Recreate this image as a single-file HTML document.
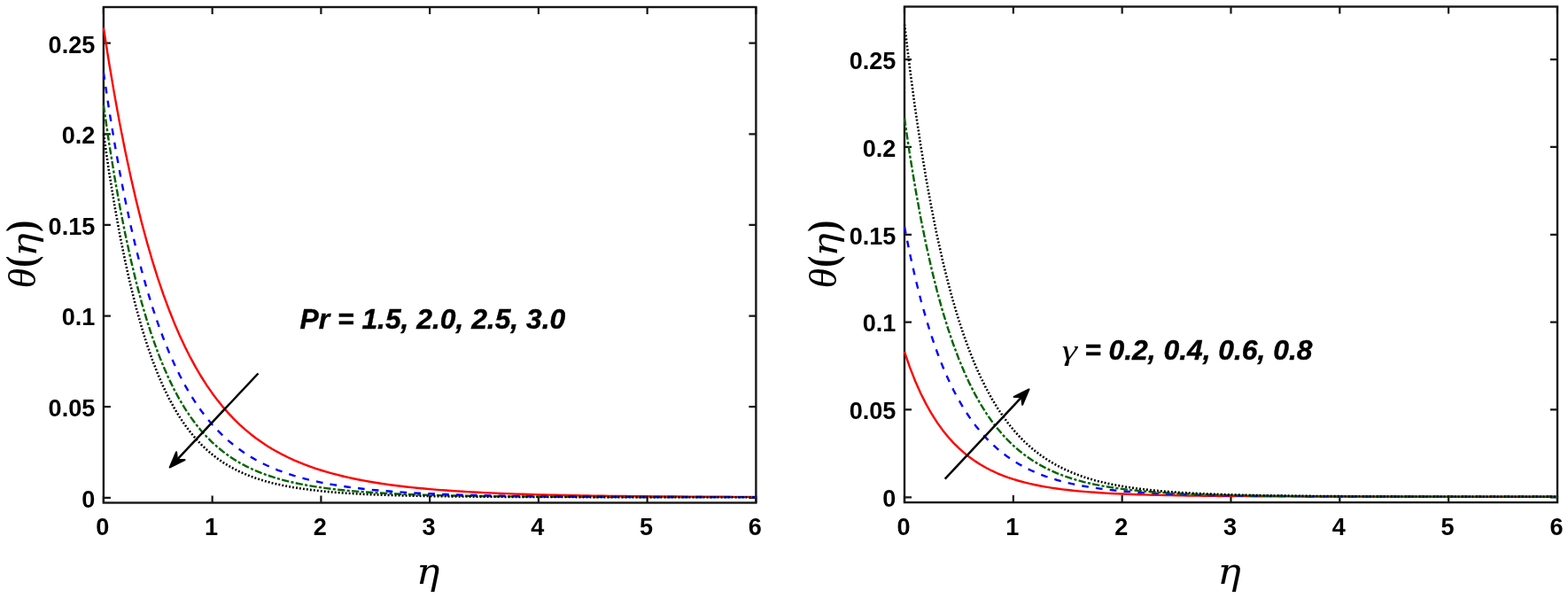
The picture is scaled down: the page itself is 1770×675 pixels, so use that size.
<!DOCTYPE html>
<html lang="en">
<head>
<meta charset="utf-8">
<title>Temperature profiles</title>
<style>
html,body{margin:0;padding:0;background:#fff;}
body{width:1770px;height:675px;overflow:hidden;}
svg{display:block;filter:blur(0.5px);}
text{fill:#000;}
.tk{font-family:"Liberation Sans",sans-serif;font-weight:bold;font-size:27.1px;fill:#161616;}
.an{font-family:"Liberation Sans",sans-serif;font-weight:bold;font-style:italic;font-size:31.8px;stroke:#000;stroke-width:0.4px;}
.ls{font-family:"Liberation Serif","DejaVu Serif",serif;font-style:italic;font-weight:normal;}
.dj{font-family:"DejaVu Serif","Liberation Serif",serif;font-style:italic;font-weight:normal;}
.pr{font-family:"Liberation Serif","DejaVu Serif",serif;font-style:normal;font-weight:bold;}
</style>
</head>
<body>
<svg width="1770" height="675" viewBox="0 0 1770 675">
<rect width="1770" height="675" fill="#fff"/>
<g id="plotL">
<clipPath id="cL"><rect x="115.50" y="6.60" width="739.30" height="562.30"/></clipPath>
<rect x="116.90" y="8.00" width="736.50" height="559.50" fill="none" stroke="#161616" stroke-width="2.4"/>
<path d="M116.90 567.50v-8.00M116.90 8.00v8.00M239.65 567.50v-8.00M239.65 8.00v8.00M362.40 567.50v-8.00M362.40 8.00v8.00M485.15 567.50v-8.00M485.15 8.00v8.00M607.90 567.50v-8.00M607.90 8.00v8.00M730.65 567.50v-8.00M730.65 8.00v8.00M853.40 567.50v-8.00M853.40 8.00v8.00M116.90 561.80h8.00M853.40 561.80h-8.00M116.90 459.18h8.00M853.40 459.18h-8.00M116.90 356.56h8.00M853.40 356.56h-8.00M116.90 253.94h8.00M853.40 253.94h-8.00M116.90 151.32h8.00M853.40 151.32h-8.00M116.90 48.70h8.00M853.40 48.70h-8.00" stroke="#161616" stroke-width="2.2" fill="none"/>
<g clip-path="url(#cL)" fill="none" stroke-width="2.40" stroke-linejoin="round">
<polyline points="116.90,118.70 123.04,160.81 129.18,198.91 135.31,233.38 141.45,264.57 147.59,292.77 153.72,318.28 159.86,341.34 166.00,362.19 172.14,381.03 178.28,398.05 184.41,413.42 190.55,427.31 196.69,439.84 202.82,451.16 208.96,461.38 215.10,470.60 221.24,478.92 227.38,486.44 233.51,493.22 239.65,499.35 245.79,504.89 251.93,509.89 258.06,514.41 264.20,518.50 270.34,522.20 276.48,525.56 282.61,528.60 288.75,531.35 294.89,533.86 301.02,536.13 307.16,538.20 313.30,540.08 319.44,541.79 325.57,543.36 331.71,544.78 337.85,546.09 343.99,547.28 350.12,548.37 356.26,549.36 362.40,550.28 368.54,551.12 374.68,551.89 380.81,552.60 386.95,553.25 393.09,553.84 399.23,554.39 405.36,554.90 411.50,555.37 417.64,555.80 423.77,556.19 429.91,556.56 436.05,556.90 442.19,557.21 448.33,557.50 454.46,557.77 460.60,558.02 466.74,558.25 472.88,558.46 479.01,558.65 485.15,558.84 491.29,559.00 497.43,559.16 503.56,559.30 509.70,559.44 515.84,559.56 521.98,559.68 528.11,559.79 534.25,559.89 540.39,559.98 546.52,560.06 552.66,560.14 558.80,560.22 564.94,560.29 571.08,560.35 577.21,560.41 583.35,560.46 589.49,560.51 595.62,560.56 601.76,560.61 607.90,560.65 614.04,560.69 620.17,560.72 626.31,560.75 632.45,560.79 638.59,560.81 644.72,560.84 650.86,560.87 657.00,560.89 663.14,560.91 669.27,560.93 675.41,560.95 681.55,560.97 687.69,560.98 693.83,561.00 699.96,561.01 706.10,561.02 712.24,561.04 718.38,561.05 724.51,561.06 730.65,561.07 736.79,561.08 742.92,561.08 749.06,561.09 755.20,561.10 761.34,561.11 767.47,561.11 773.61,561.12 779.75,561.12 785.89,561.13 792.02,561.13 798.16,561.14 804.30,561.14 810.44,561.15 816.58,561.15 822.71,561.15 828.85,561.16 834.99,561.16 841.12,561.16 847.26,561.17 853.40,561.17" stroke="#006400" stroke-width="2.40" stroke-dasharray="8.3 2.3 3.1 2.3"/>
<polyline points="116.90,31.48 123.04,70.49 129.18,106.63 135.31,140.10 141.45,171.10 147.59,199.81 153.72,226.39 159.86,251.00 166.00,273.77 172.14,294.83 178.28,314.32 184.41,332.34 190.55,349.00 196.69,364.41 202.82,378.64 208.96,391.79 215.10,403.93 221.24,415.16 227.38,425.52 233.51,435.10 239.65,443.94 245.79,452.11 251.93,459.66 258.06,466.64 264.20,473.09 270.34,479.06 276.48,484.59 282.61,489.70 288.75,494.44 294.89,498.83 301.02,502.90 307.16,506.67 313.30,510.18 319.44,513.44 325.57,516.47 331.71,519.29 337.85,521.91 343.99,524.36 350.12,526.64 356.26,528.76 362.40,530.75 368.54,532.60 374.68,534.33 380.81,535.95 386.95,537.47 393.09,538.88 399.23,540.21 405.36,541.45 411.50,542.62 417.64,543.71 423.77,544.73 429.91,545.69 436.05,546.60 442.19,547.44 448.33,548.24 454.46,548.99 460.60,549.69 466.74,550.35 472.88,550.97 479.01,551.56 485.15,552.11 491.29,552.63 497.43,553.11 503.56,553.57 509.70,554.01 515.84,554.41 521.98,554.80 528.11,555.16 534.25,555.50 540.39,555.82 546.52,556.12 552.66,556.41 558.80,556.67 564.94,556.93 571.08,557.17 577.21,557.39 583.35,557.60 589.49,557.81 595.62,557.99 601.76,558.17 607.90,558.34 614.04,558.50 620.17,558.65 626.31,558.79 632.45,558.93 638.59,559.05 644.72,559.17 650.86,559.28 657.00,559.39 663.14,559.49 669.27,559.58 675.41,559.67 681.55,559.76 687.69,559.84 693.83,559.91 699.96,559.98 706.10,560.05 712.24,560.11 718.38,560.17 724.51,560.23 730.65,560.28 736.79,560.33 742.92,560.38 749.06,560.43 755.20,560.47 761.34,560.51 767.47,560.55 773.61,560.58 779.75,560.62 785.89,560.65 792.02,560.68 798.16,560.71 804.30,560.74 810.44,560.76 816.58,560.78 822.71,560.81 828.85,560.83 834.99,560.85 841.12,560.87 847.26,560.89 853.40,560.90" stroke="#ff0000" stroke-width="2.40"/>
<polyline points="116.90,82.17 123.04,123.18 129.18,160.68 135.31,194.96 141.45,226.31 147.59,254.96 153.72,281.15 159.86,305.08 166.00,326.94 172.14,346.91 178.28,365.14 184.41,381.79 190.55,396.99 196.69,410.86 202.82,423.52 208.96,435.07 215.10,445.61 221.24,455.23 227.38,464.00 233.51,472.00 239.65,479.31 245.79,485.97 251.93,492.06 258.06,497.62 264.20,502.70 270.34,507.34 276.48,511.59 282.61,515.47 288.75,519.03 294.89,522.29 301.02,525.27 307.16,528.01 313.30,530.52 319.44,532.83 325.57,534.95 331.71,536.91 337.85,538.70 343.99,540.36 350.12,541.88 356.26,543.29 362.40,544.58 368.54,545.78 374.68,546.89 380.81,547.91 386.95,548.85 393.09,549.73 399.23,550.54 405.36,551.29 411.50,551.98 417.64,552.63 423.77,553.22 429.91,553.78 436.05,554.29 442.19,554.77 448.33,555.21 454.46,555.62 460.60,556.00 466.74,556.36 472.88,556.69 479.01,557.00 485.15,557.28 491.29,557.55 497.43,557.80 503.56,558.03 509.70,558.24 515.84,558.44 521.98,558.63 528.11,558.80 534.25,558.96 540.39,559.11 546.52,559.25 552.66,559.38 558.80,559.50 564.94,559.62 571.08,559.72 577.21,559.82 583.35,559.91 589.49,560.00 595.62,560.08 601.76,560.15 607.90,560.22 614.04,560.29 620.17,560.35 626.31,560.41 632.45,560.46 638.59,560.51 644.72,560.55 650.86,560.60 657.00,560.64 663.14,560.67 669.27,560.71 675.41,560.74 681.55,560.77 687.69,560.80 693.83,560.83 699.96,560.85 706.10,560.87 712.24,560.90 718.38,560.92 724.51,560.93 730.65,560.95 736.79,560.97 742.92,560.98 749.06,561.00 755.20,561.01 761.34,561.02 767.47,561.04 773.61,561.05 779.75,561.06 785.89,561.07 792.02,561.07 798.16,561.08 804.30,561.09 810.44,561.10 816.58,561.10 822.71,561.11 828.85,561.12 834.99,561.12 841.12,561.13 847.26,561.13 853.40,561.14" stroke="#0000ff" stroke-width="2.40" stroke-dasharray="7.7 8.2"/>
<polyline points="116.90,151.34 123.04,193.48 129.18,231.29 135.31,265.21 141.45,295.63 147.59,322.92 153.72,347.39 159.86,369.33 166.00,389.00 172.14,406.64 178.28,422.44 184.41,436.59 190.55,449.28 196.69,460.64 202.82,470.81 208.96,479.93 215.10,488.09 221.24,495.40 227.38,501.95 233.51,507.82 239.65,513.08 245.79,517.79 251.93,522.02 258.06,525.81 264.20,529.21 270.34,532.27 276.48,535.02 282.61,537.49 288.75,539.71 294.89,541.71 301.02,543.51 307.16,545.14 313.30,546.61 319.44,547.93 325.57,549.13 331.71,550.21 337.85,551.19 343.99,552.08 350.12,552.89 356.26,553.62 362.40,554.28 368.54,554.88 374.68,555.43 380.81,555.93 386.95,556.38 393.09,556.79 399.23,557.17 405.36,557.51 411.50,557.83 417.64,558.11 423.77,558.37 429.91,558.61 436.05,558.83 442.19,559.02 448.33,559.21 454.46,559.37 460.60,559.52 466.74,559.66 472.88,559.79 479.01,559.91 485.15,560.01 491.29,560.11 497.43,560.20 503.56,560.28 509.70,560.36 515.84,560.43 521.98,560.49 528.11,560.55 534.25,560.60 540.39,560.65 546.52,560.69 552.66,560.74 558.80,560.77 564.94,560.81 571.08,560.84 577.21,560.87 583.35,560.90 589.49,560.92 595.62,560.94 601.76,560.96 607.90,560.98 614.04,561.00 620.17,561.02 626.31,561.03 632.45,561.04 638.59,561.06 644.72,561.07 650.86,561.08 657.00,561.09 663.14,561.10 669.27,561.11 675.41,561.11 681.55,561.12 687.69,561.13 693.83,561.13 699.96,561.14 706.10,561.14 712.24,561.15 718.38,561.15 724.51,561.16 730.65,561.16 736.79,561.16 742.92,561.17 749.06,561.17 755.20,561.17 761.34,561.17 767.47,561.18 773.61,561.18 779.75,561.18 785.89,561.18 792.02,561.18 798.16,561.18 804.30,561.18 810.44,561.19 816.58,561.19 822.71,561.19 828.85,561.19 834.99,561.19 841.12,561.19 847.26,561.19 853.40,561.19" stroke="#000000" stroke-width="2.60" stroke-dasharray="1.9 2.1"/>
</g>
<g class="tk" text-anchor="middle">
<text transform="translate(115.90 604.40) scale(1 1.03)">0</text>
<text transform="translate(238.65 604.40) scale(1 1.03)">1</text>
<text transform="translate(361.40 604.40) scale(1 1.03)">2</text>
<text transform="translate(484.15 604.40) scale(1 1.03)">3</text>
<text transform="translate(606.90 604.40) scale(1 1.03)">4</text>
<text transform="translate(729.65 604.40) scale(1 1.03)">5</text>
<text transform="translate(852.40 604.40) scale(1 1.03)">6</text>
</g>
<g class="tk" text-anchor="end">
<text transform="translate(107.30 572.60) scale(1 1.03)">0</text>
<text transform="translate(107.30 469.98) scale(1 1.03)">0.05</text>
<text transform="translate(107.30 367.36) scale(1 1.03)">0.1</text>
<text transform="translate(107.30 264.74) scale(1 1.03)">0.15</text>
<text transform="translate(107.30 162.12) scale(1 1.03)">0.2</text>
<text transform="translate(107.30 59.50) scale(1 1.03)">0.25</text>
</g>
<text class="dj" font-size="40.47" transform="translate(469.87 658.78) scale(1.1017 1)">η</text>
<g transform="rotate(-90)">
<text class="ls" font-size="44.64" transform="translate(-325.55 39.66) scale(1.0320 1)">θ</text>
<text class="pr" font-size="46.21" transform="translate(-301.71 39.26) scale(0.8426 1)">(</text>
<text class="dj" font-size="38.99" transform="translate(-289.81 41.19) scale(1.1384 1)">η</text>
<text class="pr" font-size="46.21" transform="translate(-261.75 39.26) scale(0.8426 1)">)</text>
</g>
<text class="an" x="338.6" y="370.9">Pr = 1.5, 2.0, 2.5, 3.0</text>
<g transform="translate(291.50 421.50) rotate(133.26)">
<line x1="0" y1="0" x2="136.79" y2="0" stroke="#000" stroke-width="2.5"/>
<path d="M145.69 0 L127.89 -6.5 L133.59 0 L127.89 6.5 Z" fill="#000" stroke="#000" stroke-width="2" stroke-linejoin="round"/>
</g>
</g>
<g id="plotR">
<clipPath id="cR"><rect x="1019.60" y="6.10" width="739.80" height="562.40"/></clipPath>
<rect x="1021.00" y="7.50" width="737.00" height="559.60" fill="none" stroke="#161616" stroke-width="2.4"/>
<path d="M1021.00 567.10v-8.00M1021.00 7.50v8.00M1143.83 567.10v-8.00M1143.83 7.50v8.00M1266.66 567.10v-8.00M1266.66 7.50v8.00M1389.49 567.10v-8.00M1389.49 7.50v8.00M1512.32 567.10v-8.00M1512.32 7.50v8.00M1635.15 567.10v-8.00M1635.15 7.50v8.00M1757.98 567.10v-8.00M1757.98 7.50v8.00M1021.00 561.30h8.00M1758.00 561.30h-8.00M1021.00 462.46h8.00M1758.00 462.46h-8.00M1021.00 363.62h8.00M1758.00 363.62h-8.00M1021.00 264.78h8.00M1758.00 264.78h-8.00M1021.00 165.94h8.00M1758.00 165.94h-8.00M1021.00 67.10h8.00M1758.00 67.10h-8.00" stroke="#161616" stroke-width="2.2" fill="none"/>
<g clip-path="url(#cR)" fill="none" stroke-width="2.40" stroke-linejoin="round">
<polyline points="1021.00,397.22 1027.14,414.87 1033.28,430.44 1039.42,444.21 1045.57,456.40 1051.71,467.22 1057.85,476.84 1063.99,485.40 1070.13,493.03 1076.27,499.85 1082.41,505.93 1088.56,511.38 1094.70,516.25 1100.84,520.62 1106.98,524.53 1113.12,528.05 1119.26,531.20 1125.41,534.03 1131.55,536.57 1137.69,538.86 1143.83,540.92 1149.97,542.77 1156.11,544.44 1162.25,545.94 1168.40,547.29 1174.54,548.51 1180.68,549.62 1186.82,550.61 1192.96,551.51 1199.10,552.32 1205.24,553.06 1211.39,553.72 1217.53,554.32 1223.67,554.87 1229.81,555.36 1235.95,555.81 1242.09,556.22 1248.24,556.59 1254.38,556.93 1260.52,557.24 1266.66,557.52 1272.80,557.77 1278.94,558.01 1285.08,558.22 1291.23,558.41 1297.37,558.59 1303.51,558.76 1309.65,558.91 1315.79,559.04 1321.93,559.17 1328.08,559.28 1334.22,559.39 1340.36,559.49 1346.50,559.58 1352.64,559.66 1358.78,559.74 1364.92,559.81 1371.07,559.87 1377.21,559.93 1383.35,559.99 1389.49,560.04 1395.63,560.08 1401.77,560.13 1407.91,560.17 1414.06,560.21 1420.20,560.24 1426.34,560.27 1432.48,560.30 1438.62,560.33 1444.76,560.36 1450.90,560.38 1457.05,560.40 1463.19,560.42 1469.33,560.44 1475.47,560.46 1481.61,560.47 1487.75,560.49 1493.90,560.50 1500.04,560.52 1506.18,560.53 1512.32,560.54 1518.46,560.55 1524.60,560.56 1530.74,560.57 1536.89,560.58 1543.03,560.59 1549.17,560.59 1555.31,560.60 1561.45,560.61 1567.59,560.61 1573.74,560.62 1579.88,560.63 1586.02,560.63 1592.16,560.63 1598.30,560.64 1604.44,560.64 1610.58,560.65 1616.73,560.65 1622.87,560.65 1629.01,560.66 1635.15,560.66 1641.29,560.66 1647.43,560.66 1653.57,560.67 1659.72,560.67 1665.86,560.67 1672.00,560.67 1678.14,560.67 1684.28,560.68 1690.42,560.68 1696.57,560.68 1702.71,560.68 1708.85,560.68 1714.99,560.68 1721.13,560.68 1727.27,560.69 1733.41,560.69 1739.56,560.69 1745.70,560.69 1751.84,560.69 1757.98,560.69" stroke="#ff0000" stroke-width="2.40"/>
<polyline points="1021.00,256.08 1027.14,286.72 1033.28,314.05 1039.42,338.48 1045.57,360.34 1051.71,379.93 1057.85,397.50 1063.99,413.28 1070.13,427.47 1076.27,440.24 1082.41,451.74 1088.56,462.10 1094.70,471.45 1100.84,479.88 1106.98,487.49 1113.12,494.36 1119.26,500.57 1125.41,506.18 1131.55,511.26 1137.69,515.84 1143.83,520.00 1149.97,523.75 1156.11,527.15 1162.25,530.22 1168.40,533.00 1174.54,535.52 1180.68,537.80 1186.82,539.87 1192.96,541.74 1199.10,543.43 1205.24,544.97 1211.39,546.36 1217.53,547.62 1223.67,548.76 1229.81,549.80 1235.95,550.74 1242.09,551.59 1248.24,552.37 1254.38,553.07 1260.52,553.71 1266.66,554.29 1272.80,554.82 1278.94,555.30 1285.08,555.74 1291.23,556.14 1297.37,556.50 1303.51,556.83 1309.65,557.14 1315.79,557.42 1321.93,557.67 1328.08,557.90 1334.22,558.12 1340.36,558.31 1346.50,558.49 1352.64,558.65 1358.78,558.81 1364.92,558.95 1371.07,559.07 1377.21,559.19 1383.35,559.30 1389.49,559.40 1395.63,559.49 1401.77,559.58 1407.91,559.66 1414.06,559.73 1420.20,559.80 1426.34,559.86 1432.48,559.92 1438.62,559.97 1444.76,560.02 1450.90,560.07 1457.05,560.11 1463.19,560.15 1469.33,560.19 1475.47,560.22 1481.61,560.26 1487.75,560.29 1493.90,560.31 1500.04,560.34 1506.18,560.36 1512.32,560.39 1518.46,560.41 1524.60,560.43 1530.74,560.44 1536.89,560.46 1543.03,560.48 1549.17,560.49 1555.31,560.50 1561.45,560.52 1567.59,560.53 1573.74,560.54 1579.88,560.55 1586.02,560.56 1592.16,560.57 1598.30,560.58 1604.44,560.59 1610.58,560.59 1616.73,560.60 1622.87,560.61 1629.01,560.61 1635.15,560.62 1641.29,560.62 1647.43,560.63 1653.57,560.63 1659.72,560.64 1665.86,560.64 1672.00,560.65 1678.14,560.65 1684.28,560.65 1690.42,560.66 1696.57,560.66 1702.71,560.66 1708.85,560.66 1714.99,560.67 1721.13,560.67 1727.27,560.67 1733.41,560.67 1739.56,560.67 1745.70,560.68 1751.84,560.68 1757.98,560.68" stroke="#0000ff" stroke-width="2.40" stroke-dasharray="7.7 8.2"/>
<polyline points="1021.00,133.51 1027.14,175.23 1033.28,212.72 1039.42,246.43 1045.57,276.77 1051.71,304.09 1057.85,328.72 1063.99,350.92 1070.13,370.95 1076.27,389.02 1082.41,405.34 1088.56,420.08 1094.70,433.40 1100.84,445.43 1106.98,456.31 1113.12,466.15 1119.26,475.04 1125.41,483.08 1131.55,490.35 1137.69,496.93 1143.83,502.88 1149.97,508.26 1156.11,513.14 1162.25,517.54 1168.40,521.53 1174.54,525.14 1180.68,528.40 1186.82,531.36 1192.96,534.03 1199.10,536.45 1205.24,538.64 1211.39,540.63 1217.53,542.42 1223.67,544.05 1229.81,545.52 1235.95,546.86 1242.09,548.07 1248.24,549.16 1254.38,550.16 1260.52,551.06 1266.66,551.88 1272.80,552.62 1278.94,553.30 1285.08,553.92 1291.23,554.47 1297.37,554.98 1303.51,555.45 1309.65,555.87 1315.79,556.26 1321.93,556.61 1328.08,556.93 1334.22,557.22 1340.36,557.49 1346.50,557.74 1352.64,557.97 1358.78,558.17 1364.92,558.36 1371.07,558.54 1377.21,558.70 1383.35,558.84 1389.49,558.98 1395.63,559.11 1401.77,559.22 1407.91,559.33 1414.06,559.43 1420.20,559.52 1426.34,559.60 1432.48,559.68 1438.62,559.75 1444.76,559.82 1450.90,559.88 1457.05,559.93 1463.19,559.99 1469.33,560.04 1475.47,560.08 1481.61,560.12 1487.75,560.16 1493.90,560.20 1500.04,560.23 1506.18,560.26 1512.32,560.29 1518.46,560.32 1524.60,560.35 1530.74,560.37 1536.89,560.39 1543.03,560.41 1549.17,560.43 1555.31,560.45 1561.45,560.47 1567.59,560.48 1573.74,560.50 1579.88,560.51 1586.02,560.52 1592.16,560.53 1598.30,560.54 1604.44,560.55 1610.58,560.56 1616.73,560.57 1622.87,560.58 1629.01,560.59 1635.15,560.60 1641.29,560.60 1647.43,560.61 1653.57,560.61 1659.72,560.62 1665.86,560.63 1672.00,560.63 1678.14,560.63 1684.28,560.64 1690.42,560.64 1696.57,560.65 1702.71,560.65 1708.85,560.65 1714.99,560.66 1721.13,560.66 1727.27,560.66 1733.41,560.66 1739.56,560.67 1745.70,560.67 1751.84,560.67 1757.98,560.67" stroke="#006400" stroke-width="2.40" stroke-dasharray="8.3 2.3 3.1 2.3"/>
<polyline points="1021.00,27.56 1027.14,78.20 1033.28,123.87 1039.42,165.09 1045.57,202.32 1051.71,235.95 1057.85,266.36 1063.99,293.86 1070.13,318.74 1076.27,341.25 1082.41,361.64 1088.56,380.11 1094.70,396.83 1100.84,411.99 1106.98,425.72 1113.12,438.17 1119.26,449.45 1125.41,459.68 1131.55,468.96 1137.69,477.37 1143.83,484.99 1149.97,491.91 1156.11,498.18 1162.25,503.87 1168.40,509.02 1174.54,513.70 1180.68,517.94 1186.82,521.79 1192.96,525.28 1199.10,528.45 1205.24,531.32 1211.39,533.93 1217.53,536.29 1223.67,538.44 1229.81,540.39 1235.95,542.16 1242.09,543.76 1248.24,545.22 1254.38,546.55 1260.52,547.75 1266.66,548.85 1272.80,549.84 1278.94,550.75 1285.08,551.57 1291.23,552.32 1297.37,553.01 1303.51,553.63 1309.65,554.20 1315.79,554.72 1321.93,555.19 1328.08,555.63 1334.22,556.02 1340.36,556.39 1346.50,556.72 1352.64,557.02 1358.78,557.30 1364.92,557.56 1371.07,557.80 1377.21,558.01 1383.35,558.21 1389.49,558.39 1395.63,558.56 1401.77,558.72 1407.91,558.86 1414.06,558.99 1420.20,559.12 1426.34,559.23 1432.48,559.33 1438.62,559.43 1444.76,559.52 1450.90,559.60 1457.05,559.68 1463.19,559.75 1469.33,559.81 1475.47,559.87 1481.61,559.93 1487.75,559.98 1493.90,560.03 1500.04,560.08 1506.18,560.12 1512.32,560.16 1518.46,560.20 1524.60,560.23 1530.74,560.26 1536.89,560.29 1543.03,560.32 1549.17,560.34 1555.31,560.37 1561.45,560.39 1567.59,560.41 1573.74,560.43 1579.88,560.45 1586.02,560.46 1592.16,560.48 1598.30,560.49 1604.44,560.51 1610.58,560.52 1616.73,560.53 1622.87,560.54 1629.01,560.55 1635.15,560.56 1641.29,560.57 1647.43,560.58 1653.57,560.59 1659.72,560.59 1665.86,560.60 1672.00,560.61 1678.14,560.61 1684.28,560.62 1690.42,560.62 1696.57,560.63 1702.71,560.63 1708.85,560.64 1714.99,560.64 1721.13,560.65 1727.27,560.65 1733.41,560.65 1739.56,560.66 1745.70,560.66 1751.84,560.66 1757.98,560.66" stroke="#000000" stroke-width="2.60" stroke-dasharray="1.9 2.1"/>
</g>
<g class="tk" text-anchor="middle">
<text transform="translate(1020.00 604.40) scale(1 1.03)">0</text>
<text transform="translate(1142.83 604.40) scale(1 1.03)">1</text>
<text transform="translate(1265.66 604.40) scale(1 1.03)">2</text>
<text transform="translate(1388.49 604.40) scale(1 1.03)">3</text>
<text transform="translate(1511.32 604.40) scale(1 1.03)">4</text>
<text transform="translate(1634.15 604.40) scale(1 1.03)">5</text>
<text transform="translate(1756.98 604.40) scale(1 1.03)">6</text>
</g>
<g class="tk" text-anchor="end">
<text transform="translate(1011.40 572.10) scale(1 1.03)">0</text>
<text transform="translate(1011.40 473.26) scale(1 1.03)">0.05</text>
<text transform="translate(1011.40 374.42) scale(1 1.03)">0.1</text>
<text transform="translate(1011.40 275.58) scale(1 1.03)">0.15</text>
<text transform="translate(1011.40 176.74) scale(1 1.03)">0.2</text>
<text transform="translate(1011.40 77.90) scale(1 1.03)">0.25</text>
</g>
<text class="dj" font-size="40.47" transform="translate(1374.27 658.78) scale(1.1017 1)">η</text>
<g transform="rotate(-90)">
<text class="ls" font-size="44.64" transform="translate(-325.55 943.96) scale(1.0320 1)">θ</text>
<text class="pr" font-size="46.21" transform="translate(-301.71 943.56) scale(0.8426 1)">(</text>
<text class="dj" font-size="38.99" transform="translate(-289.81 945.49) scale(1.1384 1)">η</text>
<text class="pr" font-size="46.21" transform="translate(-261.75 943.56) scale(0.8426 1)">)</text>
</g>
<text class="ls" font-size="30.96" transform="translate(1198.71 406.41) scale(1.4124 1)">γ</text><text class="an" x="1224.2" y="406.1">= 0.2, 0.4, 0.6, 0.8</text>
<g transform="translate(1066.70 540.70) rotate(-46.88)">
<line x1="0" y1="0" x2="129.87" y2="0" stroke="#000" stroke-width="2.5"/>
<path d="M138.77 0 L120.97 -6.5 L126.67 0 L120.97 6.5 Z" fill="#000" stroke="#000" stroke-width="2" stroke-linejoin="round"/>
</g>
</g>
</svg>
</body>
</html>
